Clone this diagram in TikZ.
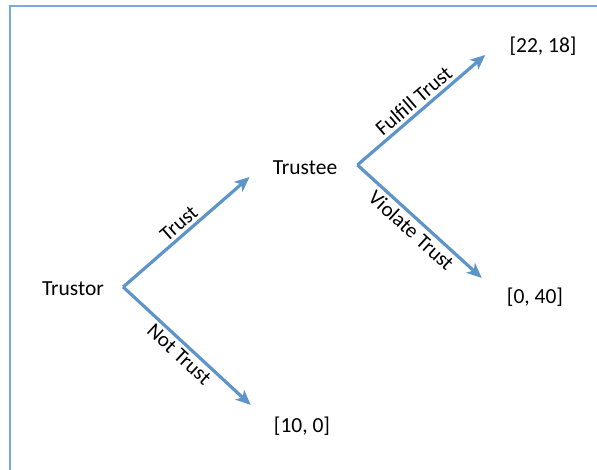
\documentclass[tikz,border=0pt]{standalone}
\usepackage{fontspec}
\setmainfont{Carlito}
\usepackage{xcolor}
\usepackage{tikz}
\definecolor{branchblue}{HTML}{5E95C9}
\definecolor{frameblue}{HTML}{7AAAD9}
\usetikzlibrary{arrows.meta, positioning, calc}

\begin{document}
\begin{tikzpicture}[x=1pt, y=1pt,
    player/.style={font=\fontsize{21.5}{25}\selectfont, inner sep=2pt},
    payoff/.style={font=\fontsize{21.5}{25}\selectfont, inner sep=2pt},
    branch/.style={-{Stealth[length=15pt, width=13pt, inset=4pt]}, line width=3.2pt, branchblue},
    move/.style={font=\fontsize{21}{25}\selectfont, text=black, sloped, midway, inner sep=3pt}]
    \useasboundingbox (0,0) rectangle (597,470);
    % Frame
    \draw[frameblue, line width=2pt] (10,0) -- (10,464) -- (597,464);

    % Players
    \node[player] (trustor) at (73,181) {Trustor};
    \node[player] (trustee) at (305,302) {Trustee};
    \coordinate (torfork) at ([xshift=17pt, yshift=2pt]trustor.east);
    \coordinate (teefork) at ([xshift=18pt, yshift=3pt]trustee.east);

    % Payoffs
    \node[payoff] (payA) at (543,424) {[22, 18]};
    \node[payoff] (payB) at (535,173) {[0, 40]};
    \node[payoff] (payC) at (302,44) {[10, 0]};

    % Moves of the trustor
    \draw[branch] (torfork) -- ([shift={(-21,-9)}]trustee.west)
        node[move, above] {Trust};
    \draw[branch] (torfork) -- ([shift={(-21,21)}]payC.west)
        node[move, below] {Not Trust};

    % Moves of the trustee
    \draw[branch] (teefork) -- ([shift={(-22,-9)}]payA.west)
        node[move, above] {Fulfill Trust};
    \draw[branch] (teefork) -- ([shift={(-23,19)}]payB.west)
        node[move, below] {Violate Trust};
\end{tikzpicture}
\end{document}
